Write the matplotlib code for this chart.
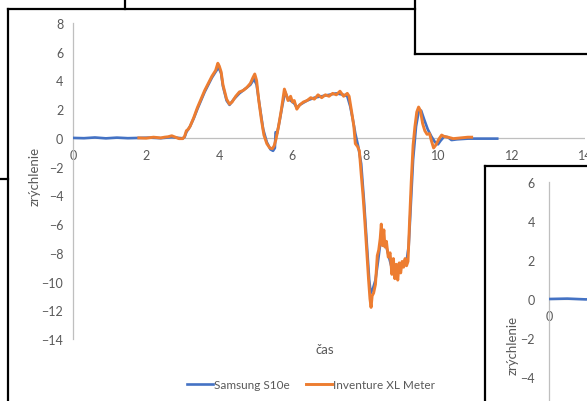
import matplotlib
matplotlib.use("Agg")
import matplotlib.pyplot as plt
from matplotlib.lines import Line2D
from matplotlib.patches import Rectangle

# Samsung S10e (blue)
samsung_t = [0, 0.3, 0.6, 0.9, 1.2, 1.5, 1.8, 2.1, 2.4, 2.7, 3.0, 3.05, 3.1, 3.2, 3.3,
             3.4, 3.5, 3.6, 3.7, 3.8, 3.9, 3.98, 4.05, 4.1, 4.2, 4.28, 4.4, 4.55, 4.7,
             4.85, 4.95, 5.02, 5.1, 5.2, 5.3, 5.4, 5.47, 5.52, 5.54, 5.58, 5.65, 5.72,
             5.8, 5.88, 5.95, 6.05, 6.12, 6.2, 6.4, 6.6, 6.8, 7.0, 7.2, 7.4, 7.5, 7.58,
             7.65, 7.72, 7.8, 7.88, 7.96, 8.04, 8.1, 8.14, 8.2, 8.27, 8.34, 8.4, 8.45,
             8.55, 8.7, 8.85, 9.0, 9.12, 9.18, 9.24, 9.3, 9.38, 9.45, 9.52, 9.6, 9.7,
             9.8, 9.9, 9.98, 10.05, 10.15, 10.25, 10.35, 10.5, 10.8, 11.1, 11.4, 11.6]
samsung_a = [0, -0.02, 0.03, -0.03, 0.02, -0.02, 0.0, 0.02, -0.02, 0.05, -0.03, 0.05,
             0.4, 0.8, 1.35, 2.0, 2.6, 3.2, 3.7, 4.2, 4.6, 4.9, 4.5, 3.6, 2.6, 2.3, 2.7,
             3.1, 3.4, 3.7, 4.1, 3.7, 2.3, 0.6, -0.3, -0.8, -0.9, -0.7, 0.4, 0.3, 1.2,
             2.2, 3.2, 2.7, 2.6, 2.4, 2.1, 2.3, 2.6, 2.8, 2.9, 3.0, 3.1, 3.0, 2.9, 2.2,
             1.3, 0.3, -0.6, -1.8, -4.5, -7.6, -9.9, -10.8, -10.5, -9.9, -8.6, -7.4,
             -6.9, -7.4, -8.9, -9.0, -8.8, -8.6, -7.5, -4.5, -1.5, 0.8, 1.8, 1.9, 1.3,
             0.6, 0.1, -0.3, -0.45, -0.2, 0.1, 0.05, -0.15, -0.1, -0.05, -0.05, -0.05,
             -0.05]

# Inventure XL Meter (orange)
inventure_t = [1.8, 2.0, 2.2, 2.4, 2.5, 2.6, 2.7, 2.8, 2.9, 3.0, 3.05, 3.1, 3.15, 3.2,
               3.3, 3.4, 3.5, 3.6, 3.7, 3.8, 3.9, 3.96, 4.0, 4.05, 4.1, 4.2, 4.28, 4.35,
               4.45, 4.55, 4.65, 4.75, 4.85, 4.92, 4.97, 5.02, 5.08, 5.15, 5.22, 5.3,
               5.38, 5.45, 5.5, 5.55, 5.62, 5.7, 5.78, 5.82, 5.88, 5.95, 6.0, 6.05, 6.12,
               6.2, 6.3, 6.4, 6.5, 6.6, 6.7, 6.8, 6.9, 7.0, 7.1, 7.2, 7.3, 7.4, 7.5,
               7.55, 7.62, 7.68, 7.72, 7.78, 7.83, 7.88, 7.93, 7.98, 8.04, 8.08, 8.12,
               8.15, 8.18, 8.22, 8.27, 8.32, 8.36, 8.4, 8.43, 8.46, 8.5, 8.53, 8.57,
               8.62, 8.67, 8.72, 8.76, 8.8, 8.84, 8.88, 8.92, 8.96, 9.0, 9.04, 9.08,
               9.12, 9.16, 9.2, 9.25, 9.3, 9.35, 9.4, 9.45, 9.5, 9.56, 9.62, 9.68, 9.75,
               9.8, 9.86, 9.92, 10.0, 10.08, 10.15, 10.25, 10.4, 10.6, 10.8, 10.9]
inventure_a = [0.0, -0.02, 0.05, 0.0, 0.05, 0.08, 0.15, 0.05, -0.05, -0.05, 0.1, 0.5,
               0.6, 0.8, 1.4, 2.1, 2.7, 3.3, 3.8, 4.3, 4.7, 5.2, 5.0, 4.6, 3.7, 2.7,
               2.35, 2.5, 2.9, 3.2, 3.3, 3.5, 3.8, 4.2, 4.45, 4.0, 2.6, 1.3, 0.2, -0.4,
               -0.7, -0.75, -0.55, -0.1, 0.8, 2.0, 3.4, 3.1, 2.6, 2.9, 2.5, 2.6, 2.0,
               2.3, 2.5, 2.6, 2.8, 2.7, 3.0, 2.8, 3.0, 2.9, 3.1, 3.0, 3.25, 2.9, 3.1,
               2.9, 1.8, 0.8, -0.4, -0.6, -0.9, -2.5, -4.0, -5.8, -8.2, -9.8, -11.2,
               -11.8, -11.0, -10.8, -10.2, -8.2, -7.8, -7.0, -6.0, -7.5, -6.4, -7.6,
               -7.2, -8.3, -8.0, -9.5, -8.4, -9.8, -8.8, -9.9, -8.7, -9.4, -8.6, -9.0,
               -8.4, -8.9, -8.6, -6.0, -3.0, -0.5, 0.8, 1.8, 2.15, 1.9, 1.0, 0.5, 0.25,
               0.3, -0.2, -0.7, -0.5, -0.1, 0.2, 0.1, 0.05, -0.05, 0.0, 0.05, 0.05]

# second (partially hidden) chart
second_t = [0, 0.5, 1.0, 1.5, 2.0]
second_a = [0, 0.02, -0.02, 0.01, 0]

main_yticks = list(range(-14, 9, 2))
main_xticks = list(range(0, 15, 2))
second_yticks = list(range(-4, 7, 2))

BLUE = "#4472C4"
ORANGE = "#ED7D31"
TEXT = "#595959"
AXIS = "#BFBFBF"

W, H = 587, 402


def fig_rect(left, top, right, bottom):
    # pixel box -> figure fraction [x, y, w, h]
    return [left / W, 1 - bottom / H, (right - left) / W, (bottom - top) / H]


def excel_axes(ax, xticks, yticks, xlim, ylim):
    for s in ax.spines.values():
        s.set_visible(False)
    ax.spines["left"].set_visible(True)
    ax.spines["left"].set_color(AXIS)
    ax.spines["left"].set_linewidth(0.9)
    ax.axhline(0, color=AXIS, linewidth=0.9, zorder=1)
    ax.set_xlim(*xlim)
    ax.set_ylim(*ylim)
    ax.set_xticks(xticks)
    ax.set_yticks(yticks)
    ax.tick_params(length=0, colors=TEXT, labelsize=9)
    ax.tick_params(axis="y", pad=7)
    ax.spines["bottom"].set_position(("data", 0))
    ax.tick_params(axis="x", pad=8)


plt.rcParams["font.family"] = ["Lato", "DejaVu Sans"]

fig = plt.figure(figsize=(W / 100, H / 100), dpi=100)
fig.patch.set_facecolor("white")

# main chart
ax = fig.add_axes(fig_rect(73, 24, 585, 340))
excel_axes(ax, main_xticks, main_yticks, (0, 14), (-14, 8))
ax.set_facecolor("none")
ax.plot(samsung_t, samsung_a, color=BLUE, linewidth=1.9, label="Samsung S10e", zorder=3)
ax.plot(inventure_t, inventure_a, color=ORANGE, linewidth=2.1,
        label="Inventure XL Meter", zorder=4)
ax.set_ylabel("zrýchlenie", color=TEXT, fontsize=9.5)
ax.yaxis.set_label_coords(-(73 - 41) / 512, (340 - 176) / 316)
fig.text(325 / W, 1 - 350 / H, "čas", color=TEXT, fontsize=9.5,
         ha="center", va="center")
fig.legend(loc="center", bbox_to_anchor=(311 / W, 1 - 386 / H), ncol=2,
           frameon=False, fontsize=8.5, handlelength=2.2, handletextpad=0.15,
           columnspacing=1.3, labelcolor=TEXT)

# white panels of the overlapping windows
fig.add_artist(Rectangle((485 / W, 0), 1, 1 - 167 / H, transform=fig.transFigure,
                         facecolor="white", edgecolor="none", zorder=5))
fig.add_artist(Rectangle((415 / W, 1 - 55 / H), 1, 1, transform=fig.transFigure,
                         facecolor="white", edgecolor="none", zorder=5))

# second chart, mostly cut off
ax2 = fig.add_axes(fig_rect(549, 183, 1061, 534))
ax2.set_zorder(6)
ax2.set_facecolor("none")
excel_axes(ax2, [0], second_yticks, (0, 14), (-12, 6))
ax2.plot(second_t, second_a, color=BLUE, linewidth=1.9, zorder=3)
ax2.tick_params(axis="y", pad=10)
ax2.set_ylabel("zrýchlenie", color=TEXT, fontsize=9.5)
ax2.yaxis.set_label_coords(-(549 - 519) / 512, (534 - 345) / 351)

# window borders
borders = [
    ((8, 8), (10, 402)),
    ((0, 8), (180, 180)),
    ((8, 415), (10, 10)),
    ((125, 125), (0, 10)),
    ((415, 415), (0, 55)),
    ((415, 587), (55, 55)),
    ((485, 587), (167, 167)),
    ((485, 485), (167, 402)),
]
for xs, ys in borders:
    fig.add_artist(Line2D([x / W for x in xs], [1 - y / H for y in ys],
                          transform=fig.transFigure, color="black",
                          linewidth=1.6, zorder=7))

fig.savefig("out.png", dpi=100)
